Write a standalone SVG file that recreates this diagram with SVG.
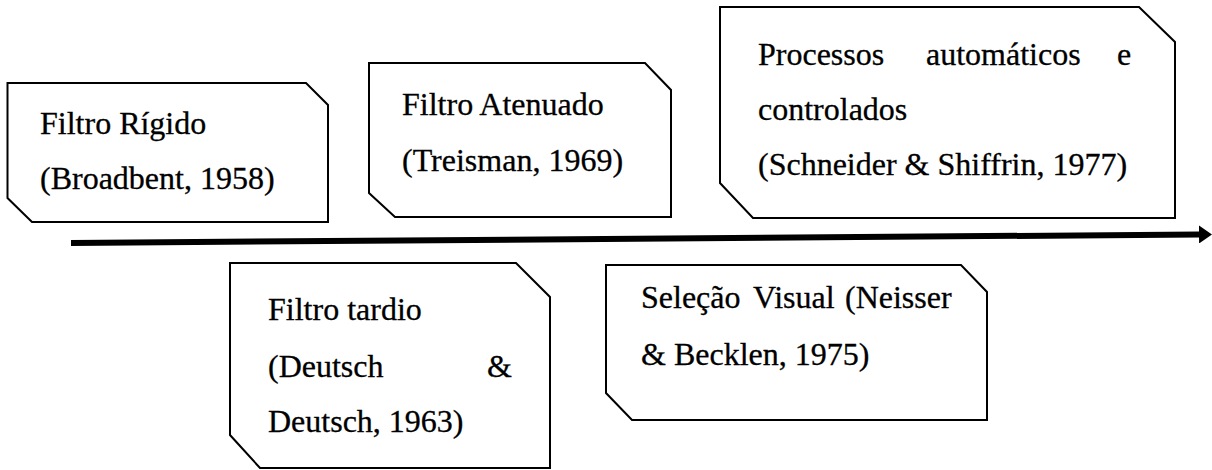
<svg xmlns="http://www.w3.org/2000/svg" width="1212" height="470" viewBox="0 0 1212 470">
<style>
.box{fill:#fff;stroke:#000;stroke-width:2}
.t text{font-family:'Liberation Serif',serif;font-size:32px;fill:#000;stroke:#000;stroke-width:0.3}
</style>
<defs>
<marker id="ah" markerWidth="13" markerHeight="18" refX="0" refY="9" orient="auto" markerUnits="userSpaceOnUse">
<polygon points="0,0 13,9 0,18" fill="#000"/>
</marker>
</defs>
<rect width="1212" height="470" fill="#fff"/>
<g id="connectors">
<line x1="71" y1="243" x2="1199" y2="234.5" stroke="#000" stroke-width="6" marker-end="url(#ah)"/>
</g>
<g class="t">
<g id="node-broadbent">
<polygon class="box" points="7.5,83 306,83 328,105 328,222 32,222 7.5,198"/>
<text x="40" y="134">Filtro Rígido</text>
<text x="40" y="189">(Broadbent, 1958)</text>
</g>
<g id="node-treisman">
<polygon class="box" points="369,63 645,63 671,90 671,217 395,217 369,193"/>
<text x="402" y="115">Filtro Atenuado</text>
<text x="402" y="171">(Treisman, 1969)</text>
</g>
<g id="node-schneider">
<polygon class="box" points="720,7 1139,7 1175,42 1175,218 753,218 720,183"/>
<text x="758" y="65">Processos</text>
<text x="926" y="65">automáticos</text>
<text x="1117" y="65">e</text>
<text x="758" y="120">controlados</text>
<text x="758" y="175">(Schneider &amp; Shiffrin, 1977)</text>
</g>
<g id="node-deutsch">
<polygon class="box" points="230,263 516,263 550,297 550,468 260,468 230,435"/>
<text x="268" y="320">Filtro tardio</text>
<text x="268" y="377">(Deutsch</text>
<text x="487" y="377">&amp;</text>
<text x="268" y="432">Deutsch, 1963)</text>
</g>
<g id="node-neisser">
<polygon class="box" points="606,265 961,265 987,292 987,420 632,420 606,393"/>
<text x="641" y="308">Seleção</text>
<text x="753" y="308">Visual</text>
<text x="845" y="308">(Neisser</text>
<text x="641" y="365">&amp; Becklen, 1975)</text>
</g>
</g>
</svg>
